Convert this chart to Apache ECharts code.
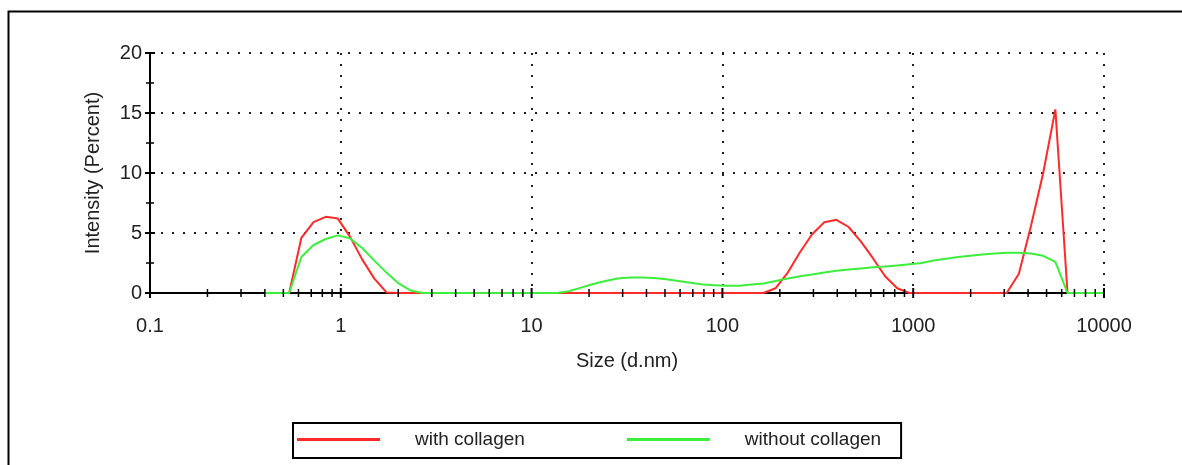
<!DOCTYPE html>
<html>
<head>
<meta charset="utf-8">
<title>Size distribution</title>
<script src="https://cdn.jsdelivr.net/npm/echarts@6/dist/echarts.min.js"></script>
<style>
  html, body { margin: 0; padding: 0; background: #fff; }
  #main { width: 1182px; height: 465px; }
</style>
</head>
<body>
<div id="main"></div>
<script>
// size classes (d.nm), the 70 bins of the instrument
var sizes = [
  0.4, 0.4632, 0.5365, 0.6213, 0.7195, 0.8332, 0.9649, 1.117, 1.294, 1.499,
  1.736, 2.010, 2.328, 2.696, 3.122, 3.615, 4.187, 4.849, 5.615, 6.503,
  7.531, 8.721, 10.10, 11.70, 13.54, 15.69, 18.17, 21.04, 24.36, 28.21,
  32.67, 37.84, 43.82, 50.75, 58.77, 68.06, 78.82, 91.28, 105.7, 122.4,
  141.8, 164.2, 190.1, 220.2, 255.0, 295.3, 342.0, 396.1, 458.7, 531.2,
  615.1, 712.4, 825.0, 955.4, 1106, 1281, 1484, 1718, 1990, 2305,
  2669, 3091, 3580, 4145, 4801, 5560, 6439, 7456, 8635, 10000
];
// intensity (%) with collagen
var withCollagen = [
  0, 0, 0, 4.6, 5.9, 6.35, 6.2, 4.7, 2.8, 1.2,
  0.05, 0, 0, 0, 0, 0, 0, 0, 0, 0,
  0, 0, 0, 0, 0, 0, 0, 0, 0, 0,
  0, 0, 0, 0, 0, 0, 0, 0, 0, 0,
  0, 0, 0.4, 1.7, 3.4, 4.9, 5.9, 6.1, 5.5, 4.3,
  2.9, 1.4, 0.4, 0, 0, 0, 0, 0, 0, 0,
  0, 0, 1.6, 5.6, 10.0, 15.3, 0, 0, 0, 0
];
// intensity (%) without collagen
var withoutCollagen = [
  0, 0, 0, 3.0, 4.0, 4.5, 4.8, 4.55, 3.75, 2.7,
  1.7, 0.8, 0.2, 0, 0, 0, 0, 0, 0, 0,
  0, 0, 0, 0, 0, 0.15, 0.45, 0.75, 1.0, 1.2,
  1.3, 1.3, 1.25, 1.15, 1.0, 0.85, 0.7, 0.65, 0.6, 0.6,
  0.7, 0.8, 1.0, 1.2, 1.4, 1.55, 1.7, 1.85, 1.95, 2.05,
  2.15, 2.2, 2.3, 2.4, 2.5, 2.7, 2.85, 3.0, 3.1, 3.2,
  3.3, 3.35, 3.35, 3.3, 3.1, 2.6, 0, 0, 0, 0
];
var seriesNames = ['with collagen', 'without collagen'];
var xTickLabels = ['0.1', '1', '10', '100', '1000', '10000'];
var yTicks = [0, 5, 10, 15, 20];

var font = 'Liberation Sans, Arial, sans-serif';

function pairs(vals) {
  var out = [];
  for (var i = 0; i < sizes.length; i++) out.push([sizes[i], vals[i]]);
  return out;
}

// tick marks that cross the axes: [x, y, horizontal?, major?]
var tickMarks = [];
for (var d = 0; d < xTickLabels.length; d++) {
  var dec = Number(xTickLabels[d]);
  tickMarks.push([dec, 0, 0, 1]);
  if (d < xTickLabels.length - 1) {
    for (var k = 2; k <= 9; k++) tickMarks.push([+(dec * k).toPrecision(3), 0, 0, 0]);
  }
}
for (var j = 0; j < yTicks.length; j++) {
  tickMarks.push([0.1, yTicks[j], 1, 1]);
  if (j < yTicks.length - 1) tickMarks.push([0.1, yTicks[j] + 2.5, 1, 0]);
}

var chart = echarts.init(document.getElementById('main'));
chart.setOption({
  animation: false,
  backgroundColor: '#fff',
  textStyle: { fontFamily: font },
  graphic: [{
    type: 'rect',
    left: 6, top: 9,
    shape: { width: 1200, height: 500 },
    style: { fill: 'none', stroke: '#000', lineWidth: 2 },
    silent: true
  }],
  grid: { left: 150, right: 78, top: 53, bottom: 172 },
  legend: {
    data: seriesNames,
    left: 293, top: 423,
    icon: 'rect',
    itemWidth: 83, itemHeight: 3,
    itemGap: 102,
    padding: [7, 20, 9, 4],
    borderColor: '#000', borderWidth: 2,
    textStyle: { fontSize: 19, color: '#222', fontFamily: font, padding: [0, 0, 0, 30] }
  },
  xAxis: {
    type: 'log',
    logBase: 10,
    min: 0.1, max: 10000,
    name: 'Size (d.nm)',
    nameLocation: 'middle',
    nameGap: 58,
    nameTextStyle: { fontSize: 20, color: '#222', fontFamily: font },
    axisLine: { lineStyle: { color: '#000', width: 2 } },
    axisTick: { show: false },
    axisLabel: {
      fontSize: 20, color: '#222', margin: 23, fontFamily: font,
      formatter: function (v) {
        for (var i = 0; i < xTickLabels.length; i++) {
          if (Math.abs(Number(xTickLabels[i]) - v) < 1e-6 * v) return xTickLabels[i];
        }
        return '';
      }
    },
    splitLine: { show: true, lineStyle: { color: '#222', width: 2, type: [2, 9] } }
  },
  yAxis: {
    type: 'value',
    min: 0, max: 20, interval: 5,
    name: 'Intensity (Percent)',
    nameLocation: 'middle',
    nameGap: 47,
    nameTextStyle: { fontSize: 20, color: '#222', fontFamily: font },
    axisLine: { show: true, lineStyle: { color: '#000', width: 2 } },
    axisTick: { show: false },
    axisLabel: { fontSize: 20, color: '#222', margin: 8, fontFamily: font },
    splitLine: { show: true, lineStyle: { color: '#222', width: 2, type: [2, 9] } }
  },
  series: [
    {
      name: seriesNames[0],
      type: 'line',
      data: pairs(withCollagen),
      showSymbol: false, symbol: 'none',
      color: '#ff2a2a',
      lineStyle: { color: '#ff2a2a', width: 2 },
      z: 2
    },
    {
      name: seriesNames[1],
      type: 'line',
      data: pairs(withoutCollagen),
      showSymbol: false, symbol: 'none',
      color: '#3dee3d',
      lineStyle: { color: '#3dee3d', width: 2 },
      z: 3
    },
    {
      type: 'custom',
      data: tickMarks,
      silent: true,
      z: 5,
      renderItem: function (params, api) {
        var p = api.coord([api.value(0), api.value(1)]);
        var len = api.value(3) ? 5 : 4;
        var shape = api.value(2)
          ? { x1: p[0] - len, y1: p[1], x2: p[0] + len, y2: p[1] }
          : { x1: p[0], y1: p[1] - len, x2: p[0], y2: p[1] + len };
        return { type: 'line', shape: shape, style: { stroke: '#000', lineWidth: api.value(3) ? 2 : 1.5 } };
      }
    }
  ]
});
</script>
</body>
</html>
